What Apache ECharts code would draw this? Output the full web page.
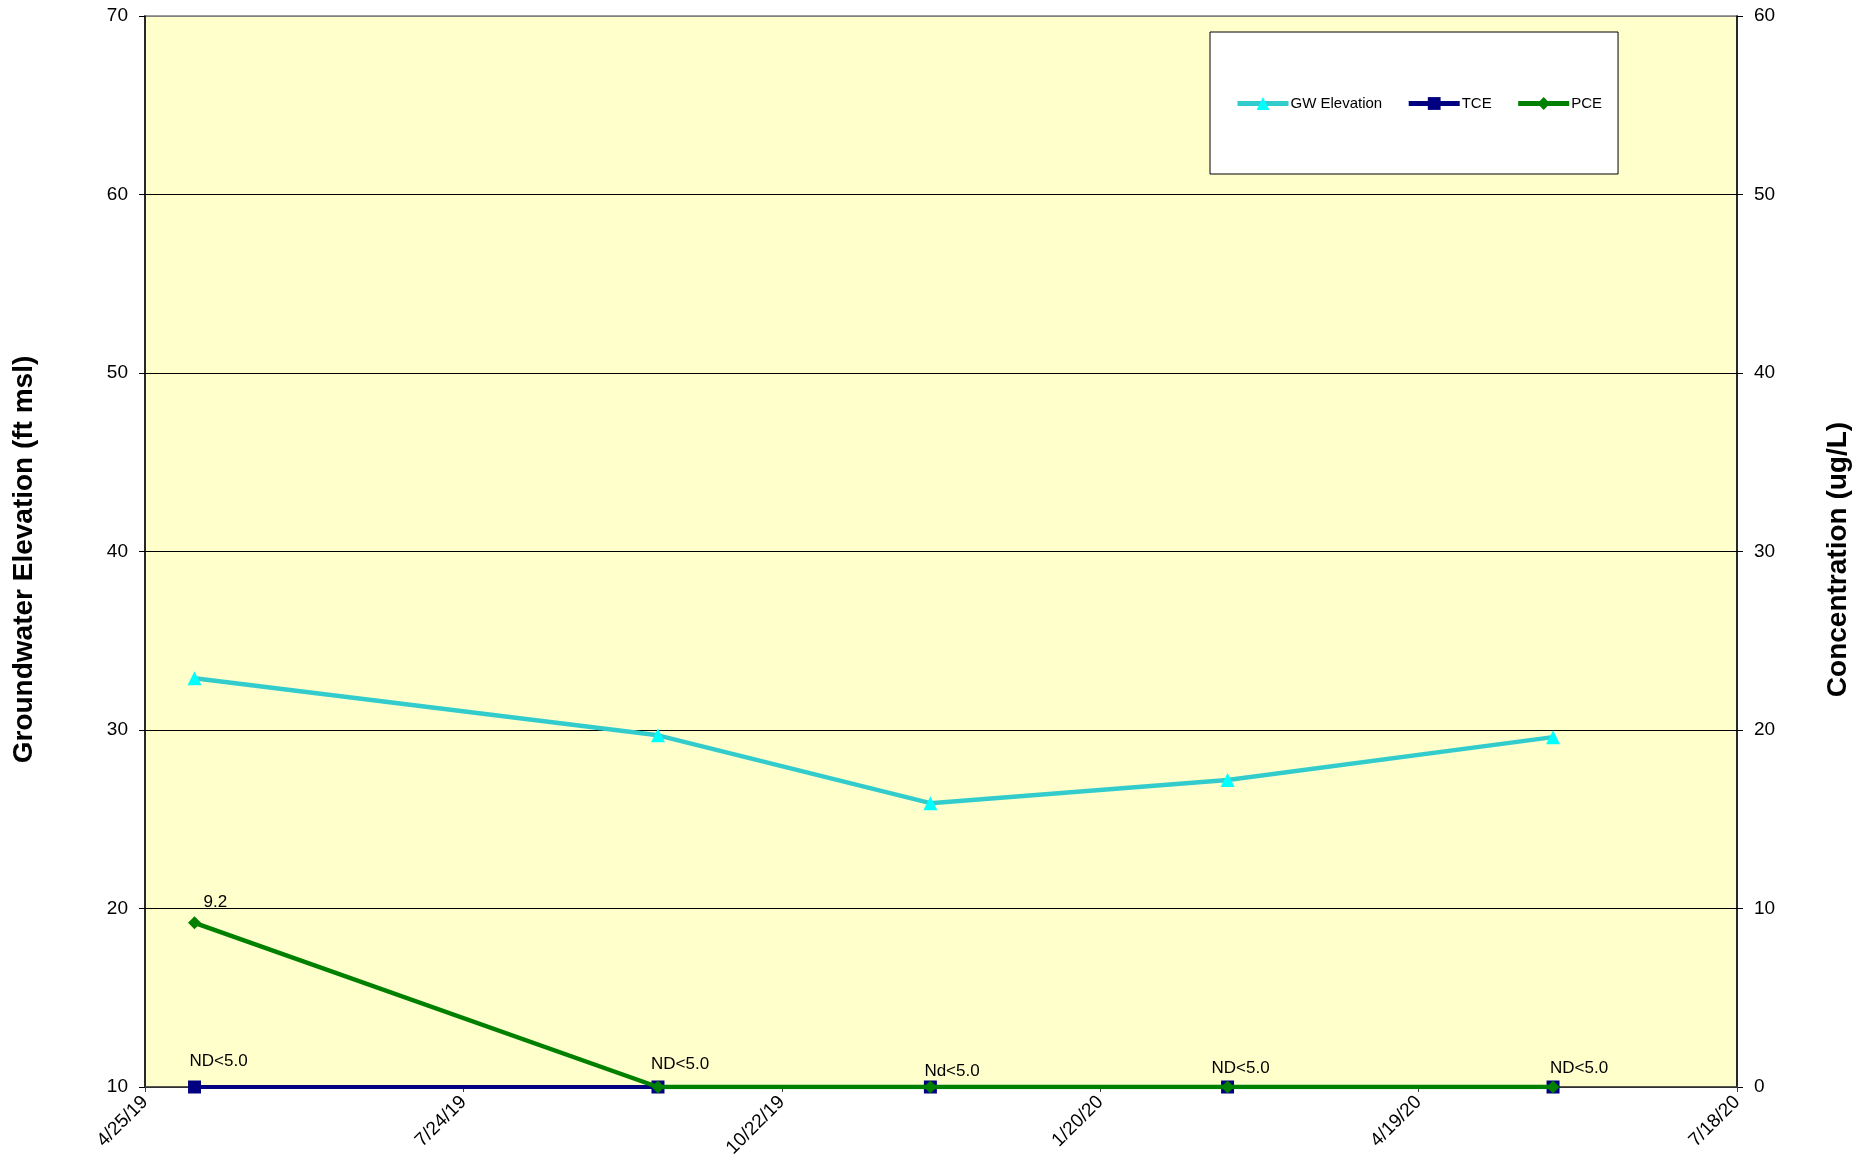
<!DOCTYPE html>
<html>
<head>
<meta charset="utf-8">
<script src="https://cdn.jsdelivr.net/npm/echarts@6/dist/echarts.min.js"></script>
<style>
  html, body { margin: 0; padding: 0; background: #ffffff; }
  #chart { width: 1875px; height: 1169px; }
</style>
</head>
<body>
<div id="chart"></div>
<script>
// Sampling events
const sampleDates = ['2019-05-09', '2019-09-17', '2019-12-03', '2020-02-25', '2020-05-27'];
// Groundwater elevation (ft msl)
const gwElevation = [32.9, 29.7, 25.9, 27.2, 29.6];
// Concentrations (ug/L); non-detects plotted at 0
const tceValues = [0, 0, 0, 0, 0];
const pceValues = [9.2, 0, 0, 0, 0];
// Point labels
const tceLabels = ['ND<5.0', 'ND<5.0', 'Nd<5.0', 'ND<5.0', 'ND<5.0'];
const pceLabels = ['9.2', '', '', '', ''];
// Date axis: ticks every 90 days starting 4/25/19
const axisStartDate = '2019-04-25';
const tickStepDays = 90;
const xTickLabels = ['4/25/19', '7/24/19', '10/22/19', '1/20/20', '4/19/20', '7/18/20'];

// label placement relative to each marker (px)
const tceLabelOffsets = [[-5, -26], [-7, -23], [-6, -16], [-16, -19], [-3, -19]];
const pceLabelOffsets = [[9, -20], [0, 0], [0, 0], [0, 0], [0, 0]];

const FONT = '"Liberation Sans", Arial, sans-serif';

function toUTC(s) {
  const p = s.split('-').map(Number);
  return Date.UTC(p[0], p[1] - 1, p[2]);
}
const t0 = toUTC(axisStartDate);
const dayOffset = s => (toUTC(s) - t0) / 86400000;
const xDays = sampleDates.map(dayOffset);
const xMax = tickStepDays * (xTickLabels.length - 1);

const gwData = xDays.map((d, i) => [d, gwElevation[i]]);
const tceData = xDays.map((d, i) => ({
  value: [d, tceValues[i]],
  label: { show: !!tceLabels[i], formatter: tceLabels[i], offset: tceLabelOffsets[i] }
}));
const pceData = xDays.map((d, i) => ({
  value: [d, pceValues[i]],
  label: { show: !!pceLabels[i], formatter: pceLabels[i], offset: pceLabelOffsets[i] }
}));

const pointLabel = {
  position: 'inside',
  align: 'left',
  verticalAlign: 'middle',
  color: '#000',
  fontFamily: FONT,
  fontSize: 17
};

const chart = echarts.init(document.getElementById('chart'), null, { renderer: 'canvas' });

chart.setOption({
  animation: false,
  backgroundColor: '#ffffff',
  textStyle: { fontFamily: FONT },
  grid: {
    left: 145, right: 138, top: 16, bottom: 82,
    show: true,
    backgroundColor: '#FFFFCC',
    borderColor: '#808080',
    borderWidth: 1.5,
    containLabel: false,
    outerBoundsMode: 'none'
  },
  legend: {
    left: 1210, top: 32,
    orient: 'horizontal',
    padding: [64, 16, 63, 25],
    backgroundColor: '#ffffff',
    borderColor: '#000000',
    borderWidth: 1,
    itemWidth: 51,
    itemHeight: 16,
    itemGap: 24,
    lineStyle: { width: 5 },
    textStyle: { fontFamily: FONT, fontSize: 15, color: '#000', padding: [0, 0, 0, -3] },
    data: ['GW Elevation', 'TCE', 'PCE']
  },
  xAxis: {
    type: 'value',
    min: 0,
    max: xMax,
    interval: tickStepDays,
    axisLine: { show: true, onZero: false, lineStyle: { color: '#404040', width: 1.5 } },
    axisTick: { show: true, length: 5, lineStyle: { color: '#404040' } },
    splitLine: { show: false },
    axisLabel: {
      rotate: 45,
      margin: 12,
      color: '#000',
      fontFamily: FONT,
      fontSize: 19,
      formatter: v => xTickLabels[Math.round(v / tickStepDays)] || ''
    }
  },
  yAxis: [
    {
      type: 'value',
      position: 'left',
      min: 10, max: 70, interval: 10,
      name: 'Groundwater Elevation (ft msl)',
      nameLocation: 'middle',
      nameRotate: 90,
      nameGap: 107,
      nameTextStyle: { fontFamily: FONT, fontSize: 28, fontWeight: 'bold', color: '#000', padding: [0, 16, 0, 0] },
      axisLine: { show: true, lineStyle: { color: '#000', width: 1.5 } },
      axisTick: { show: true, length: 6, lineStyle: { color: '#000' } },
      axisLabel: { margin: 17, color: '#000', fontFamily: FONT, fontSize: 19 },
      splitLine: {
        show: true,
        lineStyle: { color: ['#000', '#000', '#000', '#000', '#000', '#000', '#808080'], width: 1 }
      }
    },
    {
      type: 'value',
      position: 'right',
      min: 0, max: 60, interval: 10,
      name: 'Concentration (ug/L)',
      nameLocation: 'middle',
      nameRotate: 90,
      nameGap: 87,
      nameTextStyle: { fontFamily: FONT, fontSize: 28, fontWeight: 'bold', color: '#000', padding: [0, 16, 0, 0] },
      axisLine: { show: true, lineStyle: { color: '#000', width: 1.5 } },
      axisTick: { show: true, length: 6, lineStyle: { color: '#000' } },
      axisLabel: { margin: 17, color: '#000', fontFamily: FONT, fontSize: 19 },
      splitLine: { show: false }
    }
  ],
  series: [
    {
      name: 'GW Elevation',
      type: 'line',
      yAxisIndex: 0,
      data: gwData,
      symbol: 'triangle',
      symbolSize: 14,
      lineStyle: { color: '#33CCCC', width: 4.5 },
      itemStyle: { color: '#00FFFF' },
      z: 3
    },
    {
      name: 'TCE',
      type: 'line',
      yAxisIndex: 1,
      data: tceData,
      symbol: 'rect',
      symbolSize: 13,
      lineStyle: { color: '#000080', width: 4 },
      itemStyle: { color: '#000080' },
      label: pointLabel,
      z: 4
    },
    {
      name: 'PCE',
      type: 'line',
      yAxisIndex: 1,
      data: pceData,
      symbol: 'diamond',
      symbolSize: 13,
      lineStyle: { color: '#008000', width: 4.5 },
      itemStyle: { color: '#008000' },
      label: pointLabel,
      z: 5
    }
  ]
});
</script>
</body>
</html>
